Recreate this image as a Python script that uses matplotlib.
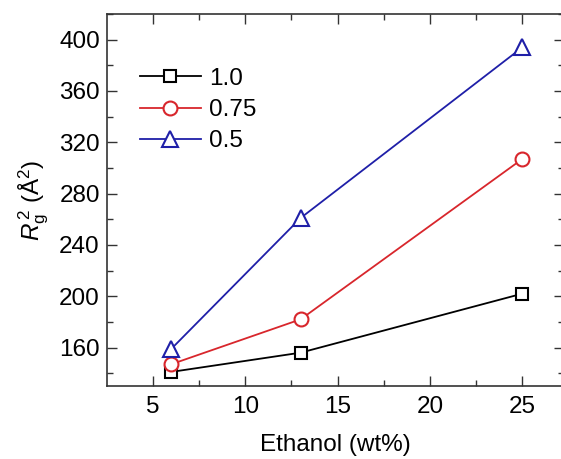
import matplotlib
matplotlib.use("Agg")
import matplotlib.pyplot as plt

plt.rcParams["font.family"] = ["Liberation Sans", "DejaVu Sans"]
plt.rcParams["mathtext.fontset"] = "custom"
plt.rcParams["mathtext.rm"] = "Liberation Sans"
plt.rcParams["mathtext.it"] = "Liberation Sans:italic"

# ethanol content (wt%) and squared radius of gyration for each ratio
ethanol = [6, 13, 25]
rg2_10 = [141, 156, 202]
rg2_075 = [147, 182, 307]
rg2_05 = [159, 261, 394]

series = [
    ("1.0", rg2_10, "black", "s", 8.5),
    ("0.75", rg2_075, "#d8262c", "o", 10),
    ("0.5", rg2_05, "#1f1fa8", "^", 11),
]

FS = 17.5

fig = plt.figure(figsize=(5.61, 4.59), dpi=100)
ax = fig.add_axes([0.1902, 0.159, 0.815, 0.8105])

for label, vals, color, marker, ms in series:
    ax.plot(ethanol, vals, color=color, linewidth=1.3, marker=marker,
            markersize=ms, markerfacecolor="white", markeredgewidth=1.5,
            markeredgecolor=color, label=label, clip_on=False)

ax.set_xlim(2.5, 27.25)
ax.set_ylim(130, 420)
ax.set_xticks([5, 10, 15, 20, 25])
ax.set_xticks([7.5, 12.5, 17.5, 22.5], minor=True)
ax.set_yticks(range(160, 401, 40))
ax.set_yticks(range(140, 421, 40), minor=True)

ax.tick_params(which="both", direction="in", top=True, right=True,
               labelsize=FS, width=1.0, color="#333333")
ax.tick_params(which="major", length=7)
ax.tick_params(which="minor", length=4)
ax.tick_params(axis="x", pad=7)
ax.tick_params(axis="y", pad=5)
for side in ("left", "bottom", "top", "right"):
    ax.spines[side].set_linewidth(1.2)
    ax.spines[side].set_color("#333333")

ax.set_xlabel("Ethanol (wt%)", fontsize=FS, labelpad=12)
ax.set_ylabel(r"$R_\mathrm{g}^{\,2}$ ($\mathrm{\AA}^2$)", fontsize=FS, labelpad=6)

ax.legend(loc="upper left", bbox_to_anchor=(0.073, 0.855), frameon=False,
          fontsize=FS, handlelength=2.5, handletextpad=0.34,
          labelspacing=0.38, borderpad=0, borderaxespad=0)

fig.savefig("out.png", dpi=100)
